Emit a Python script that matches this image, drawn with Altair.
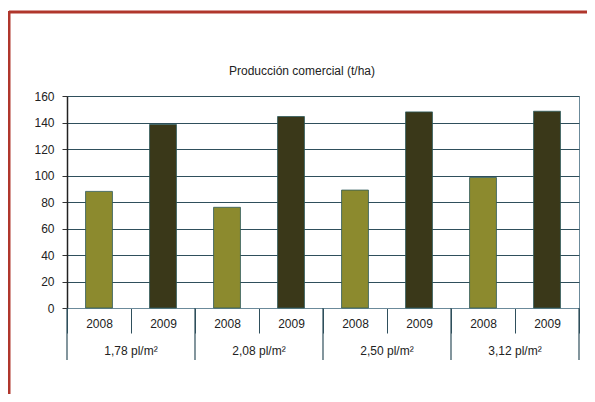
import altair as alt
import pandas as pd

groups = ["1,78 pl/m²", "2,08 pl/m²", "2,50 pl/m²", "3,12 pl/m²"]
years = ["2008", "2009"]
v2008 = [88, 76, 89, 98.5]
v2009 = [138.5, 144.5, 148, 148.5]
title_text = "Producción comercial (t/ha)"

rows = []
for i, g in enumerate(groups):
    for y, v in zip(years, [v2008[i], v2009[i]]):
        rows.append({"group": g, "year": y, "key": f"{i}|{y}", "value": v})
df = pd.DataFrame(rows)
keys = list(df["key"])

W, H = 512, 212
FONT = "Liberation Sans"
GRID = "#2f4f5c"
FS = 12

xenc = alt.X("key:N", sort=keys,
             scale=alt.Scale(paddingInner=0, paddingOuter=0),
             axis=alt.Axis(title=None, labelExpr="split(datum.value, '|')[1]",
                           tickBand="extent", tickSize=25, tickColor=GRID,
                           labelPadding=-15, labelAngle=0, labelFontSize=FS,
                           labelFont=FONT, labelColor="#222222",
                           domainColor="#6b8a9a", grid=False))

bars = alt.Chart(df).mark_bar(width=alt.RelativeBandSize(0.42), stroke="#2f5a5a",
                              strokeWidth=0.8).encode(
    x=xenc,
    y=alt.Y("value:Q", scale=alt.Scale(domain=[0, 160]),
            axis=alt.Axis(title=None, values=list(range(0, 161, 20)), grid=True,
                          gridColor=GRID, gridWidth=1.2, tickSize=5, tickColor="#333333",
                          labelPadding=8, labelFontSize=FS, labelFont=FONT,
                          labelColor="#222222", domainColor="#222222", domainWidth=1.5)),
    color=alt.Color("year:N", scale=alt.Scale(domain=years, range=["#8c8a2e", "#3a3819"]),
                    legend=None),
)

starts = df[df["year"] == "2008"]
sep = alt.Chart(starts).mark_rule(color=GRID, strokeWidth=1.2).encode(
    x=alt.X("key:N", sort=keys, bandPosition=0),
    y=alt.value(H), y2=alt.value(H + 52))
last = df.tail(1)
sep_end = alt.Chart(last).mark_rule(color=GRID, strokeWidth=1.2).encode(
    x=alt.X("key:N", sort=keys, bandPosition=1),
    y=alt.value(H), y2=alt.value(H + 52))

mids = df[df["year"] == "2009"]
glabels = alt.Chart(mids).mark_text(fontSize=FS, font=FONT, color="#222222",
                                    baseline="middle").encode(
    x=alt.X("key:N", sort=keys, bandPosition=0),
    y=alt.value(H + 43), text="group:N")

frame_df = pd.DataFrame({"k": [0], "t": [title_text]})
title = alt.Chart(frame_df).mark_text(fontSize=FS, font=FONT, color="#222222",
                                      baseline="middle", align="center").encode(
    x=alt.value(W / 2 - 21), y=alt.value(-25), text="t:N")
frame_top = alt.Chart(frame_df).mark_rule(color="#b0362c", strokeWidth=3).encode(
    x=alt.value(-58), x2=alt.value(540), y=alt.value(-84))
frame_left = alt.Chart(frame_df).mark_rule(color="#b0362c", strokeWidth=3).encode(
    x=alt.value(-58), y=alt.value(-85), y2=alt.value(320))

chart = alt.layer(bars, sep, sep_end, glabels, title, frame_top, frame_left).properties(
    width=W, height=H,
    autosize=alt.AutoSizeParams(type="none"),
    padding={"left": 59, "top": 88, "right": 8, "bottom": 86},
).configure_view(stroke="#6b8a9a", strokeWidth=1)

chart.save("out.html", embed_options={"renderer": "svg", "actions": False})
